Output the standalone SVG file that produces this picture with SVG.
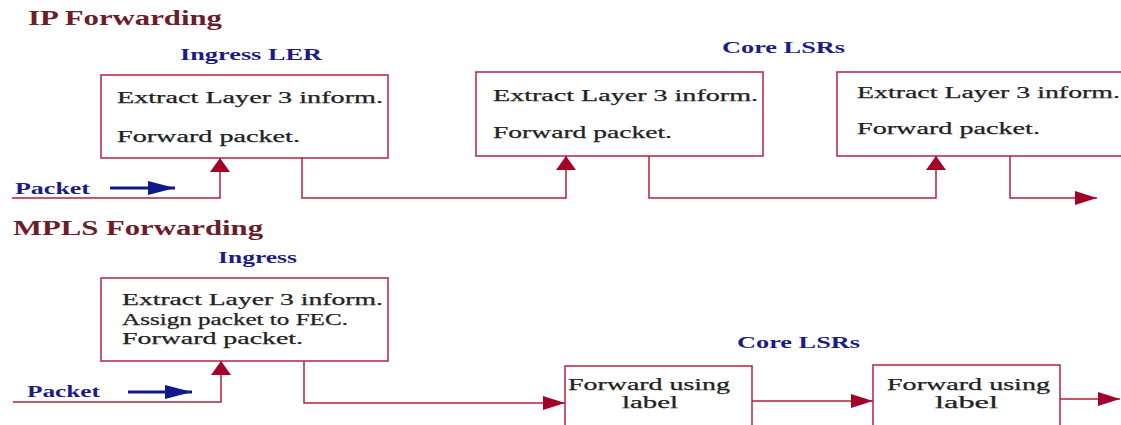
<svg xmlns="http://www.w3.org/2000/svg" width="1121" height="425" viewBox="0 0 1121 425">
<style>
.bg{fill:#ffffff}
.box{fill:#ffffff;stroke:#b8304e;stroke-width:1.6}
.t{font-family:"Liberation Serif","Times New Roman",serif;fill:#222222;font-size:16.5px;stroke:#222222;stroke-width:0.25}
.title{font-family:"Liberation Serif","Times New Roman",serif;fill:#6b1e2a;font-size:20px;font-weight:bold}
.lbl{font-family:"Liberation Serif","Times New Roman",serif;fill:#1c1c86;font-size:16px;font-weight:bold}
.wire{fill:none;stroke:#b3203e;stroke-width:1.5}
.blue{fill:none;stroke:#10188a;stroke-width:3}
</style>
<defs>
<marker id="up" markerUnits="userSpaceOnUse" markerWidth="20" markerHeight="14" refX="10" refY="0" orient="0" overflow="visible">
<path d="M0,14 L10,0 L20,14 Z" fill="#a3002a"/>
</marker>
<marker id="right" markerUnits="userSpaceOnUse" markerWidth="22" markerHeight="14" refX="22" refY="7" orient="0" overflow="visible">
<path d="M0,0 L22,7 L0,14 Z" fill="#a3002a"/>
</marker>
<marker id="bright" markerUnits="userSpaceOnUse" markerWidth="27" markerHeight="14" refX="27" refY="7" orient="0" overflow="visible">
<path d="M0,0 L27,7 L0,14 Z" fill="#10188a"/>
</marker>
</defs>
<rect class="bg" x="0" y="0" width="1121" height="425"/>

<g id="titles">
<text class="title" x="28" y="25" textLength="194" lengthAdjust="spacingAndGlyphs">IP Forwarding</text>
<text class="title" x="13" y="235" textLength="250" lengthAdjust="spacingAndGlyphs">MPLS Forwarding</text>
</g>

<g id="labels">
<text class="lbl" x="180" y="60" textLength="142" lengthAdjust="spacingAndGlyphs">Ingress LER</text>
<text class="lbl" x="722" y="53" textLength="123" lengthAdjust="spacingAndGlyphs">Core LSRs</text>
<text class="lbl" x="15" y="194" textLength="75" lengthAdjust="spacingAndGlyphs">Packet</text>
<text class="lbl" x="218" y="263" textLength="79" lengthAdjust="spacingAndGlyphs">Ingress</text>
<text class="lbl" x="737" y="348" textLength="123" lengthAdjust="spacingAndGlyphs">Core LSRs</text>
<text class="lbl" x="27" y="397" textLength="73" lengthAdjust="spacingAndGlyphs">Packet</text>
</g>

<g id="ip-ingress">
<rect class="box" x="101" y="75" width="287" height="83"/>
<text class="t" x="117" y="103" textLength="266" lengthAdjust="spacingAndGlyphs">Extract Layer 3 inform.</text>
<text class="t" x="117" y="142" textLength="183" lengthAdjust="spacingAndGlyphs">Forward packet.</text>
</g>

<g id="ip-core1">
<rect class="box" x="476" y="72" width="287" height="84"/>
<text class="t" x="493" y="101" textLength="265" lengthAdjust="spacingAndGlyphs">Extract Layer 3 inform.</text>
<text class="t" x="493" y="138" textLength="179" lengthAdjust="spacingAndGlyphs">Forward packet.</text>
</g>

<g id="ip-core2">
<rect class="box" x="837" y="72" width="300" height="84"/>
<text class="t" x="857" y="98" textLength="263" lengthAdjust="spacingAndGlyphs">Extract Layer 3 inform.</text>
<text class="t" x="857" y="134" textLength="183" lengthAdjust="spacingAndGlyphs">Forward packet.</text>
</g>

<g id="mpls-ingress">
<rect class="box" x="101" y="278" width="287" height="83"/>
<text class="t" x="122" y="305" textLength="261" lengthAdjust="spacingAndGlyphs">Extract Layer 3 inform.</text>
<text class="t" x="122" y="325" textLength="226" lengthAdjust="spacingAndGlyphs">Assign packet to FEC.</text>
<text class="t" x="122" y="344" textLength="181" lengthAdjust="spacingAndGlyphs">Forward packet.</text>
</g>

<g id="mpls-core1">
<rect class="box" x="565" y="366" width="187" height="80"/>
<text class="t" x="568" y="390" textLength="162" lengthAdjust="spacingAndGlyphs">Forward using</text>
<text class="t" x="622" y="408" textLength="56" lengthAdjust="spacingAndGlyphs">label</text>
</g>

<g id="mpls-core2">
<rect class="box" x="873" y="365" width="187" height="80"/>
<text class="t" x="887" y="390" textLength="163" lengthAdjust="spacingAndGlyphs">Forward using</text>
<text class="t" x="935" y="408" textLength="63" lengthAdjust="spacingAndGlyphs">label</text>
</g>

<g id="connectors">
<path class="blue" d="M110,188 H175" marker-end="url(#bright)"/>
<path class="blue" d="M128,392 H192" marker-end="url(#bright)"/>
<path class="wire" d="M12,198 H220 V158" marker-end="url(#up)"/>
<path class="wire" d="M302,158 V198 H566 V156" marker-end="url(#up)"/>
<path class="wire" d="M649,156 V198 H936 V156" marker-end="url(#up)"/>
<path class="wire" d="M1010,156 V198 H1097" marker-end="url(#right)"/>
<path class="wire" d="M13,402 H221 V361" marker-end="url(#up)"/>
<path class="wire" d="M304,361 V403 H565" marker-end="url(#right)"/>
<path class="wire" d="M752,401 H873" marker-end="url(#right)"/>
<path class="wire" d="M1060,399 H1120" marker-end="url(#right)"/>
</g>
</svg>
